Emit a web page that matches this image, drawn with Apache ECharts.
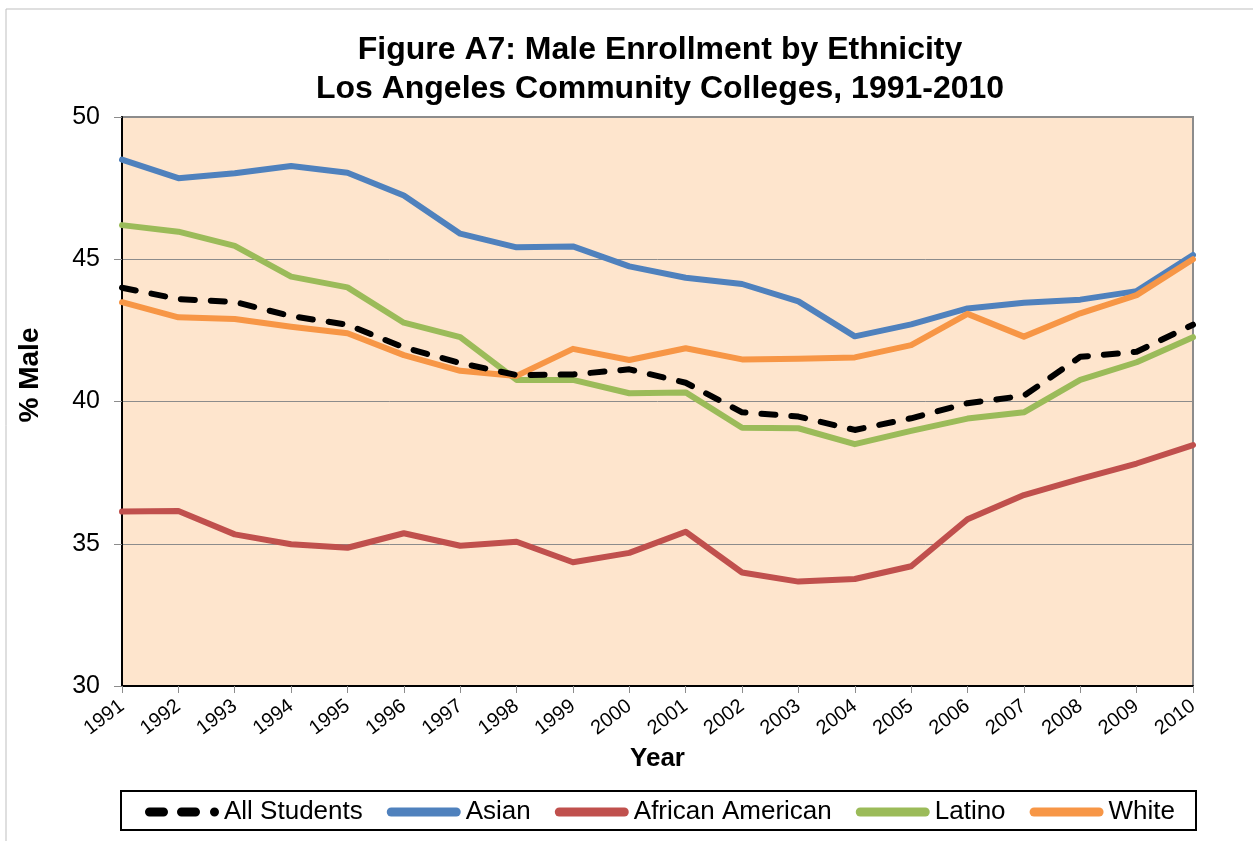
<!DOCTYPE html>
<html>
<head>
<meta charset="utf-8">
<script src="https://cdn.jsdelivr.net/npm/echarts@6/dist/echarts.min.js"></script>
<style>
  html, body { margin: 0; padding: 0; background: #ffffff; }
  #chart { width: 1253px; height: 841px; }
</style>
</head>
<body>
<div id="chart"></div>
<script>
// Data (% male enrollment)
const years = ["1991", "1992", "1993", "1994", "1995", "1996", "1997", "1998", "1999", "2000",
  "2001", "2002", "2003", "2004", "2005", "2006", "2007", "2008", "2009", "2010"];

const allStudents = [44.0, 43.6, 43.5, 43.0, 42.7, 41.9, 41.35, 40.93, 40.95, 41.13,
  40.66, 39.62, 39.47, 39.0, 39.41, 39.94, 40.2, 41.57, 41.75, 42.7];
const asian = [48.5, 47.85, 48.02, 48.28, 48.04, 47.24, 45.9, 45.42, 45.45, 44.75,
  44.35, 44.13, 43.52, 42.29, 42.71, 43.27, 43.47, 43.58, 43.88, 45.15];
const africanAmerican = [36.13, 36.15, 35.33, 34.98, 34.86, 35.37, 34.93, 35.07, 34.35, 34.68,
  35.42, 33.99, 33.67, 33.76, 34.21, 35.86, 36.71, 37.28, 37.82, 38.47];
const latino = [46.2, 45.97, 45.47, 44.39, 44.01, 42.77, 42.26, 40.76, 40.76, 40.29,
  40.32, 39.08, 39.06, 38.5, 38.97, 39.4, 39.62, 40.76, 41.38, 42.26];
const white = [43.49, 42.96, 42.9, 42.63, 42.4, 41.63, 41.08, 40.9, 41.85, 41.46,
  41.87, 41.48, 41.5, 41.55, 41.98, 43.08, 42.28, 43.1, 43.74, 45.0];

const yTicks = [30, 35, 40, 45, 50];

const font = "'Liberation Sans', Arial, sans-serif";

// legend glyphs: rounded bars, 74 x 9
const solidIcon = "path://M4.5,0 H69.5 A4.5,4.5 0 0 1 69.5,9 H4.5 A4.5,4.5 0 0 1 4.5,0 Z";
const dashIcon = "path://M4.5,0 H18.5 A4.5,4.5 0 0 1 18.5,9 H4.5 A4.5,4.5 0 0 1 4.5,0 Z " +
  "M36.5,0 H50.5 A4.5,4.5 0 0 1 50.5,9 H36.5 A4.5,4.5 0 0 1 36.5,0 Z " +
  "M69.5,0 A4.5,4.5 0 0 1 69.5,9 A4.5,4.5 0 0 1 69.5,0 Z";

const seriesDefs = [
  { name: "All Students", data: allStudents, color: "#000000", dash: [14, 16] },
  { name: "Asian", data: asian, color: "#4F81BD" },
  { name: "African American", data: africanAmerican, color: "#C0504D" },
  { name: "Latino", data: latino, color: "#9BBB59" },
  { name: "White", data: white, color: "#F79646" },
];

const chart = echarts.init(document.getElementById("chart"), null, { renderer: "canvas" });

const option = {
  animation: false,
  backgroundColor: "#ffffff",
  textStyle: { fontFamily: font },
  title: {
    text: "Figure A7: Male Enrollment by Ethnicity\nLos Angeles Community Colleges, 1991-2010",
    left: 655,
    top: 26,
    textAlign: "center",
    textStyle: {
      fontFamily: font,
      fontSize: 32,
      fontWeight: "bold",
      color: "#000000",
      lineHeight: 39,
    },
  },
  graphic: [
    {
      // outer chart frame (only top/left edges visible)
      type: "rect",
      shape: { x: 6, y: 9, width: 1400, height: 1000 },
      style: { fill: "none", stroke: "#BFBFBF", lineWidth: 1 },
      silent: true,
    },
    {
      // legend frame
      type: "rect",
      shape: { x: 121, y: 791, width: 1075, height: 39 },
      style: { fill: "#ffffff", stroke: "#000000", lineWidth: 2 },
      silent: true,
      z: -1,
    },
    {
      // y axis title sits above the plot's middle in the original
      type: "text",
      x: 30,
      y: 375,
      rotation: Math.PI / 2,
      style: {
        text: "% Male",
        font: "bold 28px " + font,
        fill: "#000000",
        align: "center",
        verticalAlign: "middle",
      },
      silent: true,
    },
  ],
  legend: {
    data: seriesDefs.map((s) => ({ name: s.name, icon: s.dash ? dashIcon : solidIcon })),
    left: 145,
    top: 799,
    padding: 0,
    itemWidth: 74,
    itemHeight: 9,
    itemGap: 24,
    textStyle: { fontFamily: font, fontSize: 26, color: "#000000" },
  },
  grid: {
    left: 122,
    right: 60,
    top: 117,
    bottom: 155,
    show: true,
    backgroundColor: "#FEE5CD",
    borderColor: "#8C8C8C",
    borderWidth: 2,
  },
  xAxis: {
    type: "category",
    data: years,
    boundaryGap: false,
    name: "Year",
    nameLocation: "middle",
    nameGap: 53,
    nameTextStyle: { fontFamily: font, fontSize: 26, fontWeight: "bold", color: "#000000" },
    axisLine: { lineStyle: { color: "#000000", width: 2 } },
    axisTick: { show: true, alignWithLabel: true, length: 7, lineStyle: { color: "#8C8C8C", width: 1 } },
    axisLabel: {
      fontFamily: font,
      fontSize: 20,
      color: "#000000",
      rotate: 37,
      margin: 18,
      interval: 0,
    },
    splitLine: { show: false },
  },
  yAxis: {
    type: "value",
    min: yTicks[0],
    max: yTicks[yTicks.length - 1],
    interval: 5,
    axisLine: { show: true, lineStyle: { color: "#000000", width: 2 } },
    axisTick: { show: true, length: 8, lineStyle: { color: "#8C8C8C", width: 1 } },
    axisLabel: { fontFamily: font, fontSize: 25, color: "#000000", margin: 22 },
    splitLine: { show: true, lineStyle: { color: "#8C8C8C", width: 1 } },
  },
  series: seriesDefs.map((s) => ({
    name: s.name,
    type: "line",
    data: s.data,
    symbol: "none",
    z: s.dash ? 5 : 2,
    itemStyle: { color: s.color },
    lineStyle: {
      color: s.color,
      width: 6,
      type: s.dash ? s.dash : "solid",
      cap: "round",
      join: "round",
    },
  })),
};

chart.setOption(option);
</script>
</body>
</html>
